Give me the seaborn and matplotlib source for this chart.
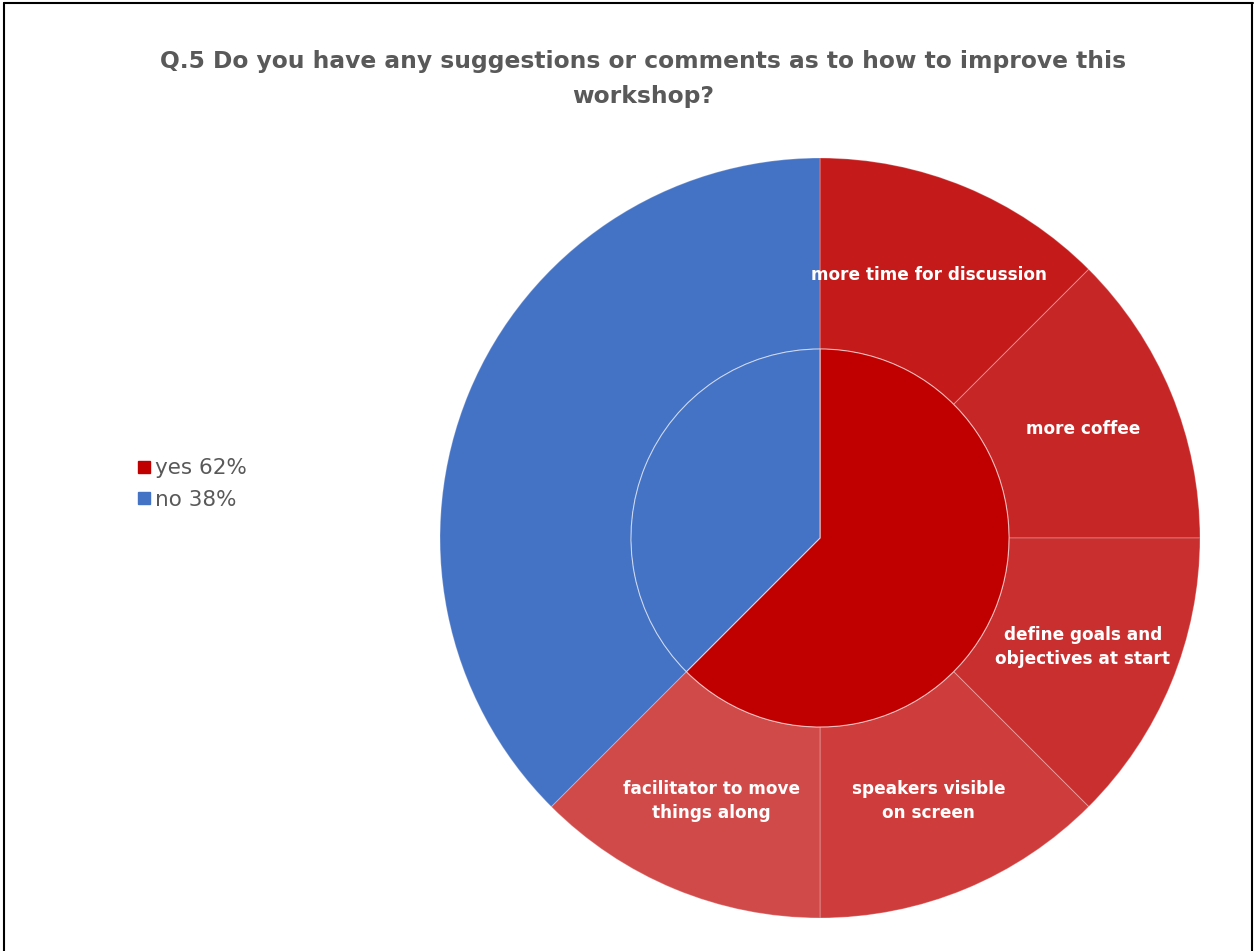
import matplotlib
matplotlib.use("Agg")
import matplotlib.pyplot as plt
import seaborn as sns
from matplotlib.lines import Line2D

# ---- data ----
inner_labels = ["yes", "no"]
inner_values = [5, 3]
outer_labels = ["more time for discussion", "more coffee",
                "define goals and\nobjectives at start",
                "speakers visible\non screen",
                "facilitator to move\nthings along", ""]
outer_values = [1, 1, 1, 1, 1, 3]
legend_labels = ["yes 62%", "no 38%"]
title = "Q.5 Do you have any suggestions or comments as to how to improve this\nworkshop?"

# ---- style ----
sns.set_theme(style="white")
plt.rcParams['font.family'] = ['DejaVu Sans']
inner_colors = ["#C00000", "#4472C4"]
outer_colors = ["#C41A1A", "#C72626", "#CA2F2F", "#CE3C3C", "#D14A4A", "#4472C4"]
grey = "#595959"

W, H = 1254, 951
fig = plt.figure(figsize=(W / 100, H / 100), dpi=100)
ax = fig.add_axes([0, 0, 1, 1])

cx, cy = 820, H - 538
R_out, R_in = 380, 189

wedges, texts = ax.pie(outer_values, radius=R_out, center=(cx, cy), startangle=90,
                       counterclock=False, colors=outer_colors, labels=outer_labels,
                       labeldistance=(R_out + R_in) / 2 / R_out,
                       wedgeprops=dict(width=R_out - R_in, edgecolor=(1, 1, 1, 0.25), linewidth=0.8),
                       textprops=dict(color="white", fontsize=12.2, fontweight="bold"),
                       frame=True)
for t in texts:
    t.set_ha("center")
    t.set_va("center")
    t.set_linespacing(1.45)

ax.pie(inner_values, radius=R_in, center=(cx, cy), startangle=90, counterclock=False,
       colors=inner_colors, wedgeprops=dict(edgecolor=(1, 1, 1, 0.6), linewidth=0.8),
       frame=True)
ax.set_xlim(0, W)
ax.set_ylim(0, H)
ax.set_aspect("equal")
ax.axis("off")

# legend
handles = [Line2D([0], [0], marker="s", linestyle="none", markersize=8,
                  markerfacecolor=c, markeredgecolor=c) for c in inner_colors]
leg = fig.legend(handles, legend_labels, loc="center left", bbox_to_anchor=(124 / W, 1 - 484 / H),
                 frameon=False, fontsize=15.5, handletextpad=0.05, labelspacing=0.55,
                 handlelength=0.9, borderpad=0)
for t in leg.get_texts():
    t.set_color(grey)

fig.text(643 / W, 1 - 79 / H, title, ha="center", va="center", fontsize=16.8,
         fontweight="bold", color=grey, linespacing=1.65)

# frame lines (top, left, right)
for xs, ys in [([4, 1253], [3, 3]), ([4, 4], [3, H]), ([1252, 1252], [3, H])]:
    fig.add_artist(Line2D([x / W for x in xs], [1 - y / H for y in ys], color="black", lw=1.5,
                          transform=fig.transFigure))

fig.savefig("out.png", dpi=100, facecolor="white")
